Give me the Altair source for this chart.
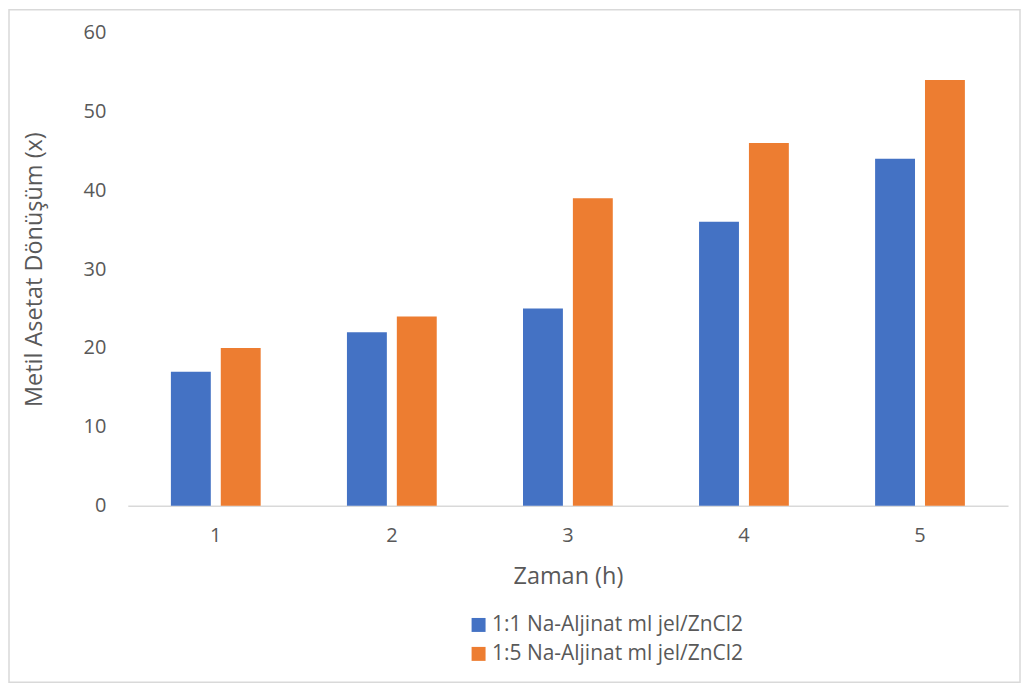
import altair as alt
import pandas as pd

categories = ["1", "2", "3", "4", "5"]
series_names = ["1:1 Na-Aljinat ml jel/ZnCl2", "1:5 Na-Aljinat ml jel/ZnCl2"]
values_11 = [17, 22, 25, 36, 44]
values_15 = [20, 24, 39, 46, 54]
colors = ["#4472C4", "#ED7D31"]

rows = []
for c, v in zip(categories, values_11):
    rows.append({"Zaman": c, "Seri": series_names[0], "Deger": v})
for c, v in zip(categories, values_15):
    rows.append({"Zaman": c, "Seri": series_names[1], "Deger": v})
df = pd.DataFrame(rows)

FONT = "Open Sans"
GRAY = "#595959"
W, H = 882, 474

bars = alt.Chart(df).mark_bar().encode(
    x=alt.X("Zaman:N", sort=categories,
            scale=alt.Scale(paddingInner=0.49, paddingOuter=0.245),
            axis=alt.Axis(title="Zaman (h)", labelAngle=0, ticks=False,
                          domainColor="#D9D9D9", domainWidth=1.5,
                          labelPadding=20, titlePadding=19,
                          labelFontSize=20, titleFontSize=23.5,
                          labelColor=GRAY, titleColor=GRAY,
                          labelFont=FONT, titleFont=FONT, titleFontWeight="normal")),
    xOffset=alt.XOffset("Seri:N", sort=series_names,
                        scale=alt.Scale(paddingInner=0.2, paddingOuter=0)),
    y=alt.Y("Deger:Q", scale=alt.Scale(domain=[0, 60], nice=False),
            axis=alt.Axis(title="Metil Asetat Dönüşüm (x)", values=[0, 10, 20, 30, 40, 50, 60],
                          grid=False, ticks=False, domain=False,
                          labelPadding=22, titlePadding=37,
                          labelFontSize=20, titleFontSize=23.5,
                          labelColor=GRAY, titleColor=GRAY,
                          labelFont=FONT, titleFont=FONT, titleFontWeight="normal")),
    color=alt.Color("Seri:N", sort=series_names,
                    scale=alt.Scale(domain=series_names, range=colors),
                    legend=alt.Legend(title=None, orient="none", legendX=341, legendY=583,
                                      symbolType="square", symbolSize=196,
                                      symbolStrokeWidth=0, labelFontSize=21,
                                      labelFont=FONT, labelColor=GRAY, labelLimit=500,
                                      rowPadding=7, labelOffset=3)),
)

border = alt.Chart(pd.DataFrame({"a": [0]})).mark_rect(
    fill="transparent", stroke="#D9D9D9", strokeWidth=1.5
).encode(
    x=alt.value(-119), x2=alt.value(894), y=alt.value(-23), y2=alt.value(651)
)

chart = alt.layer(border, bars).properties(
    width=W, height=H,
    background="white",
    autosize=alt.AutoSizeParams(type="none"),
    padding={"left": 120, "top": 24, "right": 13, "bottom": 178},
).configure_view(strokeWidth=0, stroke="transparent")

chart.save("out.html", embed_options={"renderer": "svg", "actions": False})
